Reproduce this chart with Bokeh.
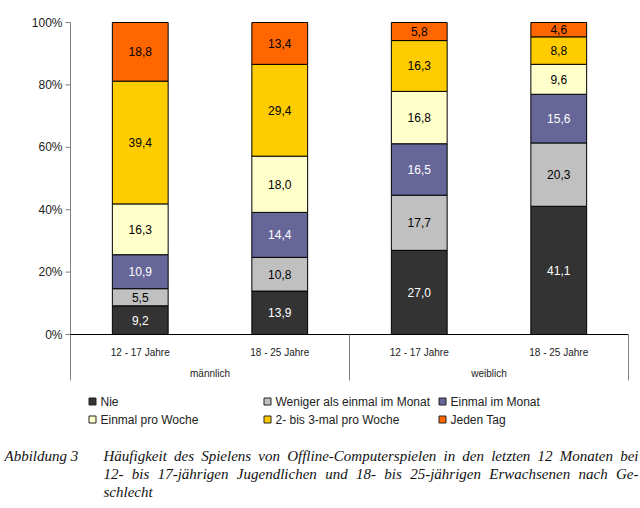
from bokeh.plotting import figure
from bokeh.models import Range1d, ColumnDataSource
from bokeh.core.properties import value
from bokeh.embed import file_html
from bokeh.resources import INLINE

# ---- data ----
groups = ["männlich", "weiblich"]
ages = ["12 - 17 Jahre", "18 - 25 Jahre", "12 - 17 Jahre", "18 - 25 Jahre"]
series = ["Nie", "Weniger als einmal im Monat", "Einmal im Monat",
          "Einmal pro Woche", "2- bis 3-mal pro Woche", "Jeden Tag"]
nie = [9.2, 13.9, 27.0, 41.1]
weniger = [5.5, 10.8, 17.7, 20.3]
einmal_monat = [10.9, 14.4, 16.5, 15.6]
einmal_woche = [16.3, 18.0, 16.8, 9.6]
zwei_drei = [39.4, 29.4, 16.3, 8.8]
jeden_tag = [18.8, 13.4, 5.8, 4.6]
colors = ["#333333", "#C0C0C0", "#666699", "#FFFFCC", "#FFCC00", "#FF6600"]
label_colors = ["white", "black", "white", "black", "black", "black"]
y_ticks = [0, 0.2, 0.4, 0.6, 0.8, 1.0]

caption_label = "Abbildung 3"
caption_lines = [
    "Häufigkeit des Spielens von Offline-Computerspielen in den letzten 12 Monaten bei",
    "12- bis 17-jährigen Jugendlichen und 18- bis 25-jährigen Erwachsenen nach Ge-",
    "schlecht",
]
caption_justify = [True, True, False]

# Times/Liberation Serif Italic advance widths (1/1000 em) used for justification
_W = {" ": 250, "-": 333, "A": 611, "C": 667, "E": 611, "G": 722, "H": 722,
      "J": 444, "M": 833, "O": 722, "S": 500,
      "a": 500, "b": 500, "c": 444, "d": 500, "e": 444, "f": 278, "g": 500,
      "h": 500, "i": 278, "j": 278, "k": 444, "l": 278, "m": 722, "n": 500,
      "o": 500, "p": 500, "r": 389, "s": 389, "t": 278, "u": 500, "v": 444,
      "w": 667, "z": 389, "ä": 500, "ö": 500, "ü": 500}


def word_width(w, size):
    return sum(_W.get(ch, 500) for ch in w) * size / 1000.0


# ---- geometry helpers: picture pixel -> data coordinates ----
AX_X, CAT_W = 70.0, 139.5      # x of category axis start, px per category
ZERO_Y, UNIT_H = 334.0, 312.0  # y of 0 %, px per 100 %
W, H = 640, 508


def X(px):
    return (px - AX_X) / CAT_W


def Y(py):
    return (ZERO_Y - py) / UNIT_H


values = [nie, weniger, einmal_monat, einmal_woche, zwei_drei, jeden_tag]
keys = ["s%d" % i for i in range(len(series))]
xs = [i + 0.5 for i in range(len(ages))]
totals = [sum(v[i] for v in values) for i in range(len(ages))]

data = {"x": xs}
for k, v in zip(keys, values):
    data[k] = [v[i] / totals[i] for i in range(len(ages))]
src = ColumnDataSource(data)

SANS = value("Liberation Sans")
SERIF = value("Liberation Serif")

p = figure(width=W, height=H, output_backend="svg", toolbar_location=None,
           x_range=Range1d(X(0), X(W)), y_range=Range1d(Y(H), Y(0)),
           min_border=0, x_axis_location=None, y_axis_location=None)
p.outline_line_color = None
p.xgrid.visible = False
p.ygrid.visible = False

# bars
p.vbar_stack(keys, x="x", width=0.4, source=src, color=colors,
             line_color="black", line_width=1)

# value labels
lx, ly, lt, lc = [], [], [], []
for i in range(len(ages)):
    base = 0.0
    for j, v in enumerate(values):
        h = v[i] / totals[i]
        lx.append(xs[i])
        ly.append(base + h / 2)
        lt.append(("%.1f" % v[i]).replace(".", ","))
        lc.append(label_colors[j])
        base += h
p.text(x=lx, y=ly, text=lt, text_color=lc, text_align="center",
       text_baseline="middle", text_font=SANS, text_font_size="12px")

# y axis (line, ticks, labels)
p.segment(x0=[0], y0=[Y(380)], x1=[0], y1=[1.0], line_color="#808080", line_width=1)
p.segment(x0=[X(65)] * len(y_ticks), y0=y_ticks, x1=[0] * len(y_ticks), y1=y_ticks,
          line_color="#808080", line_width=1)
p.text(x=[X(62)] * len(y_ticks), y=y_ticks,
       text=["%d%%" % round(t * 100) for t in y_ticks],
       text_align="right", text_baseline="middle", text_font=SANS,
       text_font_size="12px", text_color="#222222")

# category axis line and group separators
p.segment(x0=[0], y0=[0], x1=[4], y1=[0], line_color="black", line_width=1)
p.segment(x0=[2, 4], y0=[0, 0], x1=[2, 4], y1=[Y(380), Y(380)],
          line_color="#808080", line_width=1)

# category & group labels
p.text(x=xs, y=[Y(352)] * 4, text=ages, text_align="center", text_baseline="middle",
       text_font=SANS, text_font_size="10px", text_color="#222222")
p.text(x=[1, 3], y=[Y(373)] * 2, text=groups, text_align="center", text_baseline="middle",
       text_font=SANS, text_font_size="10px", text_color="#222222")

# legend
leg_px = [92, 267, 442, 92, 267, 442]
leg_py = [401, 401, 401, 419, 419, 419]
p.rect(x=[X(v) for v in leg_px], y=[Y(v) for v in leg_py], width=7, height=7,
       width_units="screen", height_units="screen", fill_color=colors,
       line_color="#222222", line_width=1)
p.text(x=[X(v + 8) for v in leg_px], y=[Y(v) for v in leg_py], text=series,
       text_baseline="middle", text_font=SANS, text_font_size="12px",
       text_color="#222222")

# caption (justified lines, word by word)
CAP_SIZE = 15
p.text(x=[X(4)], y=[Y(455)], text=[caption_label], text_baseline="middle",
       text_font=SERIF, text_font_style="italic", text_font_size="%dpx" % CAP_SIZE,
       text_color="#111111")
left, right = 103.0, 638.0
cx, cy, ct = [], [], []
for line, just, ly_ in zip(caption_lines, caption_justify, [455, 473, 491]):
    words = line.split(" ")
    widths = [word_width(w, CAP_SIZE) for w in words]
    if just and len(words) > 1:
        gap = (right - left - sum(widths)) / (len(words) - 1)
    else:
        gap = _W[" "] * CAP_SIZE / 1000.0
    pos = left
    for w, ww in zip(words, widths):
        cx.append(X(pos))
        cy.append(Y(ly_))
        ct.append(w)
        pos += ww + gap
p.text(x=cx, y=cy, text=ct, text_baseline="middle", text_font=SERIF,
       text_font_style="italic", text_font_size="%dpx" % CAP_SIZE, text_color="#111111")

open("out.html", "w").write(file_html(p, INLINE))
